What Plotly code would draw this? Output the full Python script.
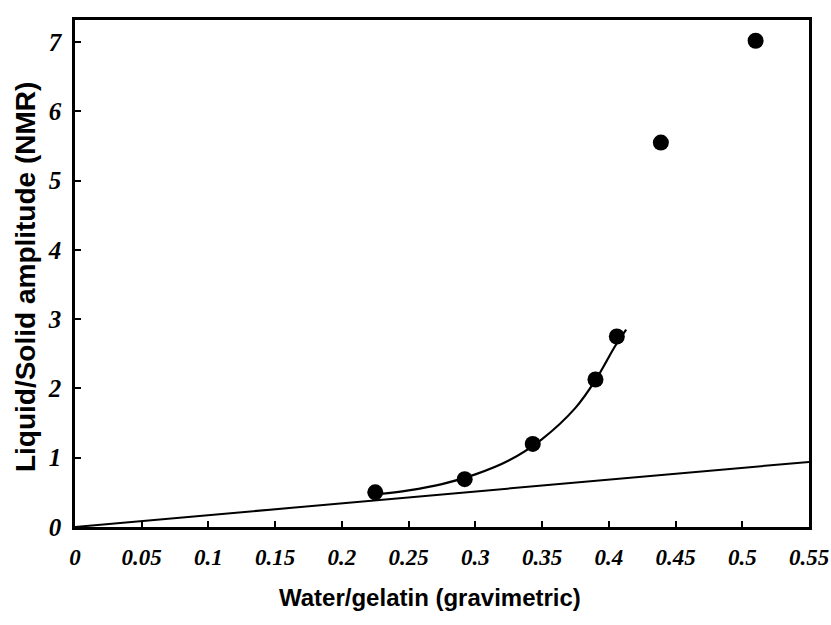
import plotly.graph_objects as go

# measured data points
pts_x = [0.225, 0.292, 0.343, 0.390, 0.406, 0.439, 0.510]
pts_y = [0.50, 0.69, 1.20, 2.13, 2.75, 5.55, 7.02]

# fitted curve
curve_x = [0.225, 0.25, 0.275, 0.30, 0.325, 0.35, 0.375, 0.39, 0.405, 0.413]
curve_y = [0.47, 0.53, 0.62, 0.76, 0.96, 1.27, 1.72, 2.12, 2.62, 2.85]

# straight reference line
line_x = [0.0, 0.55]
line_y = [0.0, 0.94]

x_ticks = [0, 0.05, 0.1, 0.15, 0.2, 0.25, 0.3, 0.35, 0.4, 0.45, 0.5, 0.55]
x_tick_text = ["0", "0.05", "0.1", "0.15", "0.2", "0.25", "0.3", "0.35", "0.4", "0.45", "0.5", "0.55"]
y_ticks = [0, 1, 2, 3, 4, 5, 6, 7]

x_title = "Water/gelatin (gravimetric)"
y_title = "Liquid/Solid amplitude (NMR)"

xtick_font = dict(family="Liberation Serif", size=23, color="black", weight="bold", style="italic")
ytick_font = dict(family="Liberation Serif", size=25, color="black", weight="bold", style="italic")
xtitle_font = dict(family="Liberation Sans", size=24, color="black", weight="bold")
ytitle_font = dict(family="Liberation Sans", size=28, color="black", weight="bold")

fig = go.Figure()
fig.add_trace(go.Scatter(x=line_x, y=line_y, mode="lines",
                         line=dict(color="black", width=2), showlegend=False))
fig.add_trace(go.Scatter(x=curve_x, y=curve_y, mode="lines",
                         line=dict(color="black", width=2.2, shape="spline", smoothing=1.0),
                         showlegend=False))
fig.add_trace(go.Scatter(x=pts_x, y=pts_y, mode="markers",
                         marker=dict(color="black", size=16), showlegend=False))

fig.update_layout(
    width=831, height=625,
    margin=dict(l=75, r=22, t=20, b=98),
    paper_bgcolor="white", plot_bgcolor="white",
    xaxis=dict(range=[0, 0.55], tickvals=x_ticks, ticktext=x_tick_text,
               ticks="inside", ticklen=6, tickwidth=1.5, tickcolor="black",
               showline=True, linecolor="black", linewidth=2.5, mirror=True,
               showgrid=False, zeroline=False, tickfont=xtick_font,
               ticklabelstandoff=8, automargin=False, ticklabeloverflow="allow"),
    yaxis=dict(range=[0, 7.32], tickvals=y_ticks,
               ticks="inside", ticklen=6, tickwidth=1.5, tickcolor="black",
               showline=True, linecolor="black", linewidth=2.5, mirror=True,
               showgrid=False, zeroline=False, tickfont=ytick_font,
               ticklabelstandoff=6, automargin=False, ticklabeloverflow="allow"),
    annotations=[
        dict(text=x_title, xref="paper", yref="paper", x=0.4837, y=-0.140,
             xanchor="center", yanchor="middle", showarrow=False, font=xtitle_font),
        dict(text=y_title, xref="paper", yref="paper", x=-0.0681, y=0.493,
             xanchor="center", yanchor="middle", showarrow=False, font=ytitle_font,
             textangle=-90),
    ],
)

fig.write_html("out.html")
